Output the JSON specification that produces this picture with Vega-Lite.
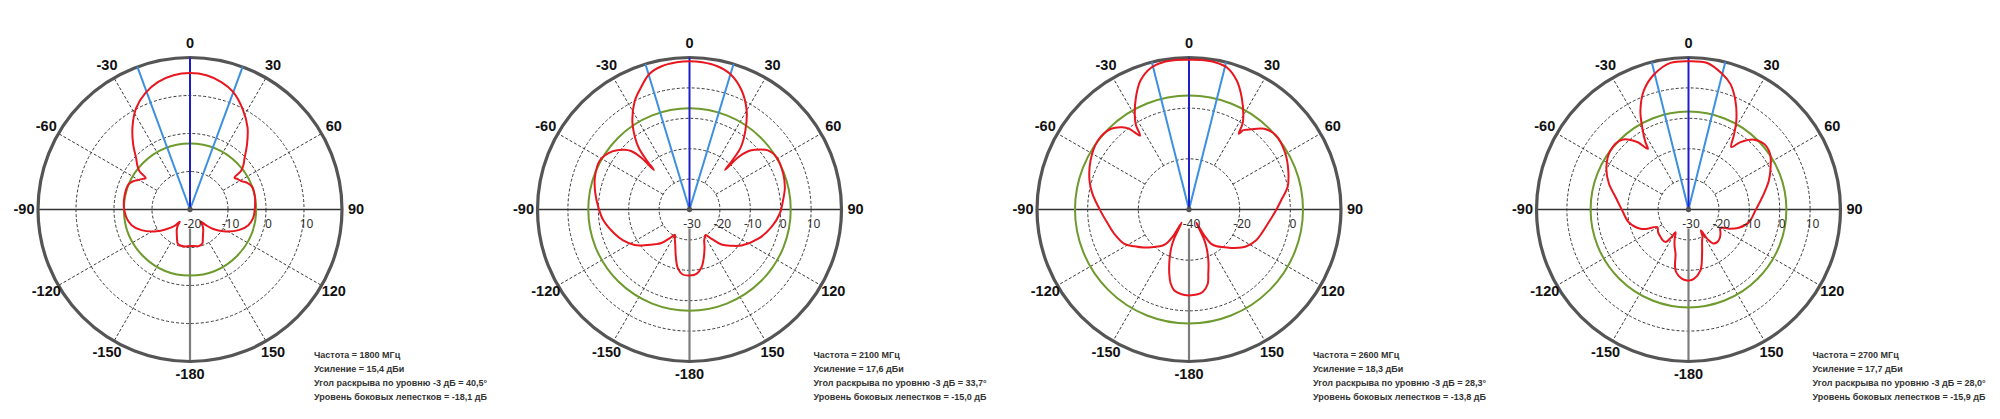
{
"$schema": "https://vega.github.io/schema/vega-lite/v6.json",
"background": "white",
"padding": 0,
"autosize": {"type": "pad"},
"config": {"view": {"stroke": null}},
"datasets": {"panels": [
 {"p":1,"lo":-20,"hi":20,"st":10},
 {"p":2,"lo":-30,"hi":20,"st":10},
 {"p":3,"lo":-40,"hi":20,"st":20},
 {"p":4,"lo":-30,"hi":20,"st":10}
]},
"data": {"values": [
{"k":"c","p":1,"a":-180,"v":-10.4},{"k":"c","p":1,"a":-172,"v":-10.2},{"k":"c","p":1,"a":-165,"v":-10.2},{"k":"c","p":1,"a":-160,"v":-10.5},{"k":"c","p":1,"a":-156,"v":-11.6},{"k":"c","p":1,"a":-152,"v":-12.6},{"k":"c","p":1,"a":-147,"v":-13.6},{"k":"c","p":1,"a":-143,"v":-14.6},{"k":"c","p":1,"a":-140,"v":-15.8},{"k":"c","p":1,"a":-136,"v":-13.8},{"k":"c","p":1,"a":-130,"v":-12.0},{"k":"c","p":1,"a":-123,"v":-9.5},{"k":"c","p":1,"a":-113,"v":-6.1},{"k":"c","p":1,"a":-105,"v":-4.1},{"k":"c","p":1,"a":-97,"v":-3.1},{"k":"c","p":1,"a":-88,"v":-2.6},{"k":"c","p":1,"a":-78,"v":-2.4},{"k":"c","p":1,"a":-68,"v":-2.5},{"k":"c","p":1,"a":-64,"v":-3.2},{"k":"c","p":1,"a":-60,"v":-4.4},{"k":"c","p":1,"a":-57,"v":-5.2},{"k":"c","p":1,"a":-54.5,"v":-5.7},{"k":"c","p":1,"a":-53,"v":-3.4},{"k":"c","p":1,"a":-50,"v":-1.9},{"k":"c","p":1,"a":-47,"v":-0.7},{"k":"c","p":1,"a":-41,"v":2.8},{"k":"c","p":1,"a":-35,"v":6.4},{"k":"c","p":1,"a":-28,"v":10.2},{"k":"c","p":1,"a":-21,"v":12.8},{"k":"c","p":1,"a":-14,"v":14.6},{"k":"c","p":1,"a":-7,"v":15.6},{"k":"c","p":1,"a":0,"v":15.9},{"k":"c","p":1,"a":7,"v":15.6},{"k":"c","p":1,"a":14,"v":14.5},{"k":"c","p":1,"a":20,"v":13.0},{"k":"c","p":1,"a":28,"v":9.7},{"k":"c","p":1,"a":35,"v":6.4},{"k":"c","p":1,"a":41,"v":2.9},{"k":"c","p":1,"a":47,"v":-0.4},{"k":"c","p":1,"a":50,"v":-1.6},{"k":"c","p":1,"a":53,"v":-3.2},{"k":"c","p":1,"a":54.5,"v":-5.6},{"k":"c","p":1,"a":57,"v":-5.2},{"k":"c","p":1,"a":61,"v":-4.6},{"k":"c","p":1,"a":65,"v":-3.4},{"k":"c","p":1,"a":70,"v":-2.6},{"k":"c","p":1,"a":79,"v":-2.6},{"k":"c","p":1,"a":88,"v":-2.9},{"k":"c","p":1,"a":97,"v":-3.2},{"k":"c","p":1,"a":105,"v":-4.1},{"k":"c","p":1,"a":113,"v":-6.1},{"k":"c","p":1,"a":123,"v":-9.5},{"k":"c","p":1,"a":130,"v":-12.0},{"k":"c","p":1,"a":134,"v":-13.9},{"k":"c","p":1,"a":138.5,"v":-15.8},{"k":"c","p":1,"a":142,"v":-14.6},{"k":"c","p":1,"a":147,"v":-13.6},{"k":"c","p":1,"a":152,"v":-12.7},{"k":"c","p":1,"a":156,"v":-11.7},{"k":"c","p":1,"a":160,"v":-10.5},{"k":"c","p":1,"a":167,"v":-10.1},{"k":"c","p":1,"a":173,"v":-10.3},{"k":"c","p":1,"a":180,"v":-10.4},

{"k":"c","p":2,"a":-180,"v":-8.3},{"k":"c","p":2,"a":-174,"v":-8.5},{"k":"c","p":2,"a":-169,"v":-10.2},{"k":"c","p":2,"a":-166,"v":-12.2},{"k":"c","p":2,"a":-162.5,"v":-14.8},{"k":"c","p":2,"a":-158,"v":-17.5},{"k":"c","p":2,"a":-154,"v":-19.0},{"k":"c","p":2,"a":-150,"v":-20.4},{"k":"c","p":2,"a":-145.5,"v":-18.6},{"k":"c","p":2,"a":-140,"v":-15.6},{"k":"c","p":2,"a":-135,"v":-13.8},{"k":"c","p":2,"a":-130,"v":-11.8},{"k":"c","p":2,"a":-123,"v":-8.5},{"k":"c","p":2,"a":-115,"v":-5.9},{"k":"c","p":2,"a":-108,"v":-4.1},{"k":"c","p":2,"a":-97,"v":-1.4},{"k":"c","p":2,"a":-88.5,"v":0.0},{"k":"c","p":2,"a":-80.5,"v":1.4},{"k":"c","p":2,"a":-71,"v":2.9},{"k":"c","p":2,"a":-61,"v":3.6},{"k":"c","p":2,"a":-53,"v":1.8},{"k":"c","p":2,"a":-47.5,"v":-0.9},{"k":"c","p":2,"a":-45,"v":-2.8},{"k":"c","p":2,"a":-43,"v":-6.5},{"k":"c","p":2,"a":-42,"v":-12.5},{"k":"c","p":2,"a":-41,"v":-8.3},{"k":"c","p":2,"a":-39.5,"v":-3.8},{"k":"c","p":2,"a":-37,"v":-0.2},{"k":"c","p":2,"a":-33,"v":4.5},{"k":"c","p":2,"a":-27,"v":9.8},{"k":"c","p":2,"a":-22,"v":13.0},{"k":"c","p":2,"a":-16.5,"v":16.5},{"k":"c","p":2,"a":-11,"v":18.0},{"k":"c","p":2,"a":-5,"v":18.6},{"k":"c","p":2,"a":0,"v":18.8},{"k":"c","p":2,"a":5,"v":18.6},{"k":"c","p":2,"a":11,"v":18.0},{"k":"c","p":2,"a":16.6,"v":16.6},{"k":"c","p":2,"a":23.6,"v":12.8},{"k":"c","p":2,"a":30,"v":7.6},{"k":"c","p":2,"a":35.3,"v":1.8},{"k":"c","p":2,"a":39.5,"v":-3.5},{"k":"c","p":2,"a":41,"v":-8.3},{"k":"c","p":2,"a":42,"v":-12.5},{"k":"c","p":2,"a":43,"v":-6.5},{"k":"c","p":2,"a":45.2,"v":-2.8},{"k":"c","p":2,"a":47.6,"v":-0.9},{"k":"c","p":2,"a":53,"v":2.3},{"k":"c","p":2,"a":59,"v":3.4},{"k":"c","p":2,"a":69,"v":3.0},{"k":"c","p":2,"a":77,"v":2.2},{"k":"c","p":2,"a":84.5,"v":0.9},{"k":"c","p":2,"a":92.7,"v":-0.3},{"k":"c","p":2,"a":102,"v":-2.4},{"k":"c","p":2,"a":113,"v":-5.4},{"k":"c","p":2,"a":124.7,"v":-9.2},{"k":"c","p":2,"a":131,"v":-11.8},{"k":"c","p":2,"a":137.6,"v":-14.4},{"k":"c","p":2,"a":143,"v":-17.9},{"k":"c","p":2,"a":147.7,"v":-20.1},{"k":"c","p":2,"a":151,"v":-19.6},{"k":"c","p":2,"a":154.7,"v":-18.7},{"k":"c","p":2,"a":158,"v":-16.8},{"k":"c","p":2,"a":161.7,"v":-14.6},{"k":"c","p":2,"a":165,"v":-12.5},{"k":"c","p":2,"a":168.2,"v":-10.6},{"k":"c","p":2,"a":173.8,"v":-8.7},{"k":"c","p":2,"a":180,"v":-8.3},

{"k":"c","p":3,"a":-180,"v":-6.1},{"k":"c","p":3,"a":-175,"v":-6.4},{"k":"c","p":3,"a":-169.7,"v":-7.5},{"k":"c","p":3,"a":-166,"v":-10.0},{"k":"c","p":3,"a":-163,"v":-13.4},{"k":"c","p":3,"a":-160,"v":-17.2},{"k":"c","p":3,"a":-157,"v":-21.0},{"k":"c","p":3,"a":-155,"v":-23.5},{"k":"c","p":3,"a":-153,"v":-27.0},{"k":"c","p":3,"a":-151,"v":-34.0},{"k":"c","p":3,"a":-149,"v":-27.5},{"k":"c","p":3,"a":-147,"v":-24.5},{"k":"c","p":3,"a":-143.8,"v":-22.4},{"k":"c","p":3,"a":-137,"v":-19.8},{"k":"c","p":3,"a":-130,"v":-16.6},{"k":"c","p":3,"a":-124,"v":-14.0},{"k":"c","p":3,"a":-118,"v":-11.1},{"k":"c","p":3,"a":-108,"v":-9.0},{"k":"c","p":3,"a":-100,"v":-7.5},{"k":"c","p":3,"a":-91.7,"v":-5.3},{"k":"c","p":3,"a":-80.8,"v":-1.4},{"k":"c","p":3,"a":-73.8,"v":0.9},{"k":"c","p":3,"a":-63.6,"v":3.4},{"k":"c","p":3,"a":-53,"v":5.1},{"k":"c","p":3,"a":-44,"v":4.3},{"k":"c","p":3,"a":-39,"v":1.8},{"k":"c","p":3,"a":-36.5,"v":-0.4},{"k":"c","p":3,"a":-33.5,"v":-5.0},{"k":"c","p":3,"a":-32.2,"v":-0.7},{"k":"c","p":3,"a":-30,"v":2.8},{"k":"c","p":3,"a":-25.3,"v":9.0},{"k":"c","p":3,"a":-20.7,"v":14.3},{"k":"c","p":3,"a":-15,"v":17.9},{"k":"c","p":3,"a":-10,"v":19.0},{"k":"c","p":3,"a":-5,"v":19.2},{"k":"c","p":3,"a":0,"v":19.1},{"k":"c","p":3,"a":5,"v":19.2},{"k":"c","p":3,"a":10,"v":19.0},{"k":"c","p":3,"a":15.2,"v":17.9},{"k":"c","p":3,"a":20.4,"v":14.2},{"k":"c","p":3,"a":25.1,"v":9.0},{"k":"c","p":3,"a":30,"v":2.9},{"k":"c","p":3,"a":32,"v":-0.1},{"k":"c","p":3,"a":33.3,"v":-4.2},{"k":"c","p":3,"a":34.5,"v":-2.0},{"k":"c","p":3,"a":36.4,"v":-0.9},{"k":"c","p":3,"a":43,"v":3.6},{"k":"c","p":3,"a":49.6,"v":5.1},{"k":"c","p":3,"a":59.2,"v":4.1},{"k":"c","p":3,"a":68.6,"v":2.1},{"k":"c","p":3,"a":77.2,"v":-0.1},{"k":"c","p":3,"a":84.4,"v":-3.5},{"k":"c","p":3,"a":90.7,"v":-5.7},{"k":"c","p":3,"a":100.3,"v":-8.4},{"k":"c","p":3,"a":108,"v":-9.8},{"k":"c","p":3,"a":114.8,"v":-10.9},{"k":"c","p":3,"a":123,"v":-13.2},{"k":"c","p":3,"a":130,"v":-16.4},{"k":"c","p":3,"a":136.8,"v":-19.6},{"k":"c","p":3,"a":143,"v":-21.8},{"k":"c","p":3,"a":147,"v":-23.8},{"k":"c","p":3,"a":149.5,"v":-28.0},{"k":"c","p":3,"a":151,"v":-34.0},{"k":"c","p":3,"a":153,"v":-27.5},{"k":"c","p":3,"a":155,"v":-23.8},{"k":"c","p":3,"a":157.2,"v":-21.0},{"k":"c","p":3,"a":160,"v":-17.5},{"k":"c","p":3,"a":163.3,"v":-13.5},{"k":"c","p":3,"a":165.9,"v":-9.7},{"k":"c","p":3,"a":170.6,"v":-7.0},{"k":"c","p":3,"a":175,"v":-6.3},{"k":"c","p":3,"a":180,"v":-6.1},

{"k":"c","p":4,"a":-180,"v":-6.6},{"k":"c","p":4,"a":-174.8,"v":-7.1},{"k":"c","p":4,"a":-168,"v":-9.5},{"k":"c","p":4,"a":-163.7,"v":-14.8},{"k":"c","p":4,"a":-159,"v":-17.2},{"k":"c","p":4,"a":-155,"v":-19.2},{"k":"c","p":4,"a":-150.2,"v":-21.4},{"k":"c","p":4,"a":-148,"v":-19.0},{"k":"c","p":4,"a":-145,"v":-17.0},{"k":"c","p":4,"a":-141,"v":-16.8},{"k":"c","p":4,"a":-134.7,"v":-17.1},{"k":"c","p":4,"a":-127,"v":-17.5},{"k":"c","p":4,"a":-119.4,"v":-18.2},{"k":"c","p":4,"a":-115,"v":-15.0},{"k":"c","p":4,"a":-111.9,"v":-13.0},{"k":"c","p":4,"a":-102,"v":-9.9},{"k":"c","p":4,"a":-90.9,"v":-8.2},{"k":"c","p":4,"a":-80.4,"v":-5.7},{"k":"c","p":4,"a":-72.1,"v":-2.5},{"k":"c","p":4,"a":-62.7,"v":0.4},{"k":"c","p":4,"a":-52.9,"v":2.2},{"k":"c","p":4,"a":-43.6,"v":1.7},{"k":"c","p":4,"a":-37.3,"v":-2.1},{"k":"c","p":4,"a":-33.8,"v":-6.0},{"k":"c","p":4,"a":-32.6,"v":-3.7},{"k":"c","p":4,"a":-29.4,"v":1.0},{"k":"c","p":4,"a":-25.9,"v":6.2},{"k":"c","p":4,"a":-20.6,"v":11.8},{"k":"c","p":4,"a":-14,"v":16.0},{"k":"c","p":4,"a":-7,"v":18.6},{"k":"c","p":4,"a":0,"v":18.8},{"k":"c","p":4,"a":7.3,"v":18.6},{"k":"c","p":4,"a":13.9,"v":16.0},{"k":"c","p":4,"a":18.5,"v":13.5},{"k":"c","p":4,"a":23.3,"v":9.0},{"k":"c","p":4,"a":28.3,"v":3.2},{"k":"c","p":4,"a":31.5,"v":-1.5},{"k":"c","p":4,"a":34.4,"v":-5.1},{"k":"c","p":4,"a":37.7,"v":-2.0},{"k":"c","p":4,"a":43.2,"v":1.5},{"k":"c","p":4,"a":48.9,"v":2.9},{"k":"c","p":4,"a":55.6,"v":2.5},{"k":"c","p":4,"a":62.7,"v":0.4},{"k":"c","p":4,"a":70.2,"v":-1.9},{"k":"c","p":4,"a":78.3,"v":-4.7},{"k":"c","p":4,"a":90.9,"v":-8.0},{"k":"c","p":4,"a":101.9,"v":-9.7},{"k":"c","p":4,"a":110,"v":-12.4},{"k":"c","p":4,"a":115,"v":-15.0},{"k":"c","p":4,"a":119.8,"v":-17.9},{"k":"c","p":4,"a":126,"v":-17.0},{"k":"c","p":4,"a":132,"v":-16.1},{"k":"c","p":4,"a":138.7,"v":-15.7},{"k":"c","p":4,"a":144,"v":-16.2},{"k":"c","p":4,"a":147,"v":-18.0},{"k":"c","p":4,"a":149.5,"v":-22.0},{"k":"c","p":4,"a":152.5,"v":-20.0},{"k":"c","p":4,"a":156.2,"v":-18.9},{"k":"c","p":4,"a":162.9,"v":-14.8},{"k":"c","p":4,"a":168.9,"v":-9.6},{"k":"c","p":4,"a":175.6,"v":-7.1},{"k":"c","p":4,"a":180,"v":-6.6},

{"k":"r","p":1,"v":-20},{"k":"r","p":1,"v":-10},{"k":"r","p":1,"v":0},{"k":"r","p":1,"v":10},{"k":"r","p":1,"v":20},
{"k":"r","p":2,"v":-30},{"k":"r","p":2,"v":-20},{"k":"r","p":2,"v":-10},{"k":"r","p":2,"v":0},{"k":"r","p":2,"v":10},{"k":"r","p":2,"v":20},
{"k":"r","p":3,"v":-40},{"k":"r","p":3,"v":-20},{"k":"r","p":3,"v":0},{"k":"r","p":3,"v":20},
{"k":"r","p":4,"v":-30},{"k":"r","p":4,"v":-20},{"k":"r","p":4,"v":-10},{"k":"r","p":4,"v":0},{"k":"r","p":4,"v":10},{"k":"r","p":4,"v":20},

{"k":"g","p":1,"v":-2.6},{"k":"g","p":2,"v":3.3},{"k":"g","p":3,"v":5.0},{"k":"g","p":4,"v":2.2},

{"k":"b","p":1,"a":-20.25},{"k":"b","p":1,"a":20.25},
{"k":"b","p":2,"a":-16.85},{"k":"b","p":2,"a":16.85},
{"k":"b","p":3,"a":-14.15},{"k":"b","p":3,"a":14.15},
{"k":"b","p":4,"a":-14.0},{"k":"b","p":4,"a":14.0},

{"k":"t","p":1,"a":0},{"k":"t","p":1,"a":30},{"k":"t","p":1,"a":60},{"k":"t","p":1,"a":90},{"k":"t","p":1,"a":120},{"k":"t","p":1,"a":150},{"k":"t","p":1,"a":-180},{"k":"t","p":1,"a":-150},{"k":"t","p":1,"a":-120},{"k":"t","p":1,"a":-90},{"k":"t","p":1,"a":-60},{"k":"t","p":1,"a":-30},
{"k":"t","p":2,"a":0},{"k":"t","p":2,"a":30},{"k":"t","p":2,"a":60},{"k":"t","p":2,"a":90},{"k":"t","p":2,"a":120},{"k":"t","p":2,"a":150},{"k":"t","p":2,"a":-180},{"k":"t","p":2,"a":-150},{"k":"t","p":2,"a":-120},{"k":"t","p":2,"a":-90},{"k":"t","p":2,"a":-60},{"k":"t","p":2,"a":-30},
{"k":"t","p":3,"a":0},{"k":"t","p":3,"a":30},{"k":"t","p":3,"a":60},{"k":"t","p":3,"a":90},{"k":"t","p":3,"a":120},{"k":"t","p":3,"a":150},{"k":"t","p":3,"a":-180},{"k":"t","p":3,"a":-150},{"k":"t","p":3,"a":-120},{"k":"t","p":3,"a":-90},{"k":"t","p":3,"a":-60},{"k":"t","p":3,"a":-30},
{"k":"t","p":4,"a":0},{"k":"t","p":4,"a":30},{"k":"t","p":4,"a":60},{"k":"t","p":4,"a":90},{"k":"t","p":4,"a":120},{"k":"t","p":4,"a":150},{"k":"t","p":4,"a":-180},{"k":"t","p":4,"a":-150},{"k":"t","p":4,"a":-120},{"k":"t","p":4,"a":-90},{"k":"t","p":4,"a":-60},{"k":"t","p":4,"a":-30},

{"k":"i","p":1,"txt":"Частота = 1800 МГц\nУсиление = 15,4 дБи\nУгол раскрыва по уровню -3 дБ = 40,5°\nУровень боковых лепестков = -18,1 дБ"},
{"k":"i","p":2,"txt":"Частота = 2100 МГц\nУсиление = 17,6 дБи\nУгол раскрыва по уровню -3 дБ = 33,7°\nУровень боковых лепестков = -15,0 дБ"},
{"k":"i","p":3,"txt":"Частота = 2600 МГц\nУсиление = 18,3 дБи\nУгол раскрыва по уровню -3 дБ = 28,3°\nУровень боковых лепестков = -13,8 дБ"},
{"k":"i","p":4,"txt":"Частота = 2700 МГц\nУсиление = 17,7 дБи\nУгол раскрыва по уровню -3 дБ = 28,0°\nУровень боковых лепестков = -15,9 дБ"}
]},
"transform": [
 {"lookup": "p", "from": {"data": {"name": "panels"}, "key": "p", "fields": ["lo", "hi", "st"]}},
 {"calculate": "(datum.v - datum.lo) / (datum.hi - datum.lo)", "as": "rn"},
 {"calculate": "datum.a * PI / 180", "as": "t"},
 {"calculate": "0", "as": "z"}
],
"facet": {"column": {"field": "p", "type": "ordinal", "header": {"title": null, "labels": false}}},
"spacing": 119.5,
"bounds": "flush",
"spec": {
 "width": 380,
 "height": 419,
 "layer": [
  {"transform": [{"filter": "datum.k == 'r' && datum.v > datum.lo && datum.v < datum.hi"}],
   "mark": {"type": "point", "shape": "circle", "filled": false, "color": "#3a3a3a", "strokeWidth": 1, "strokeDash": [3, 2], "opacity": 1},
   "encoding": {
     "x": {"field": "z", "type": "quantitative", "scale": {"domain": [-1.25, 1.25], "nice": false, "zero": false}, "axis": null},
     "y": {"field": "z", "type": "quantitative", "scale": {"domain": [-1.3783, 1.3783], "nice": false, "zero": false}, "axis": null},
     "size": {"field": "rn", "type": "quantitative", "scale": {"type": "pow", "exponent": 2, "domain": [0, 1], "range": [0, 92416]}, "legend": null}}},
  {"transform": [{"filter": "datum.k == 't' && datum.a % 90 != 0"},
     {"calculate": "datum.st / (datum.hi - datum.lo)", "as": "r0"},
     {"calculate": "datum.r0 * sin(datum.t)", "as": "x"}, {"calculate": "datum.r0 * cos(datum.t)", "as": "y"},
     {"calculate": "sin(datum.t)", "as": "x2"}, {"calculate": "cos(datum.t)", "as": "y2"}],
   "mark": {"type": "rule", "color": "#3a3a3a", "strokeWidth": 1, "strokeDash": [3, 2]},
   "encoding": {
     "x": {"field": "x", "type": "quantitative", "scale": {"domain": [-1.25, 1.25], "nice": false, "zero": false}, "axis": null},
     "y": {"field": "y", "type": "quantitative", "scale": {"domain": [-1.3783, 1.3783], "nice": false, "zero": false}, "axis": null},
     "x2": {"field": "x2"}, "y2": {"field": "y2"}}},
  {"transform": [{"filter": "datum.k == 't' && abs(datum.a) == 90"},
     {"calculate": "sin(datum.t)", "as": "x2"}, {"calculate": "cos(datum.t)", "as": "y2"}],
   "mark": {"type": "rule", "color": "#333333", "strokeWidth": 1.5},
   "encoding": {
     "x": {"field": "z", "type": "quantitative", "scale": {"domain": [-1.25, 1.25], "nice": false, "zero": false}, "axis": null},
     "y": {"field": "z", "type": "quantitative", "scale": {"domain": [-1.3783, 1.3783], "nice": false, "zero": false}, "axis": null},
     "x2": {"field": "x2"}, "y2": {"field": "y2"}}},
  {"transform": [{"filter": "datum.k == 't' && datum.a == -180"},
     {"calculate": "0.125 * cos(datum.t)", "as": "y"},
     {"calculate": "cos(datum.t)", "as": "y2"}],
   "mark": {"type": "rule", "color": "#7d7d7d", "strokeWidth": 2.2},
   "encoding": {
     "x": {"field": "z", "type": "quantitative", "scale": {"domain": [-1.25, 1.25], "nice": false, "zero": false}, "axis": null},
     "y": {"field": "y", "type": "quantitative", "scale": {"domain": [-1.3783, 1.3783], "nice": false, "zero": false}, "axis": null},
     "y2": {"field": "y2"}}},
  {"transform": [{"filter": "datum.k == 'g'"}],
   "mark": {"type": "point", "shape": "circle", "filled": false, "color": "#6f9a2e", "strokeWidth": 2, "opacity": 1},
   "encoding": {
     "x": {"field": "z", "type": "quantitative", "scale": {"domain": [-1.25, 1.25], "nice": false, "zero": false}, "axis": null},
     "y": {"field": "z", "type": "quantitative", "scale": {"domain": [-1.3783, 1.3783], "nice": false, "zero": false}, "axis": null},
     "size": {"field": "rn", "type": "quantitative", "scale": {"type": "pow", "exponent": 2, "domain": [0, 1], "range": [0, 92416]}, "legend": null}}},
  {"transform": [{"filter": "datum.k == 'r' && datum.v == datum.hi"}],
   "mark": {"type": "point", "shape": "circle", "filled": false, "color": "#555555", "strokeWidth": 3.2, "opacity": 1},
   "encoding": {
     "x": {"field": "z", "type": "quantitative", "scale": {"domain": [-1.25, 1.25], "nice": false, "zero": false}, "axis": null},
     "y": {"field": "z", "type": "quantitative", "scale": {"domain": [-1.3783, 1.3783], "nice": false, "zero": false}, "axis": null},
     "size": {"field": "rn", "type": "quantitative", "scale": {"type": "pow", "exponent": 2, "domain": [0, 1], "range": [0, 92416]}, "legend": null}}},
  {"transform": [{"filter": "datum.k == 'b' || (datum.k == 't' && datum.a == 0)"},
     {"calculate": "sin(datum.t)", "as": "x2"}, {"calculate": "cos(datum.t)", "as": "y2"},
     {"calculate": "datum.k == 'b' ? 'side' : 'main'", "as": "line"}],
   "mark": {"type": "rule", "strokeWidth": 2},
   "encoding": {
     "x": {"field": "z", "type": "quantitative", "scale": {"domain": [-1.25, 1.25], "nice": false, "zero": false}, "axis": null},
     "y": {"field": "z", "type": "quantitative", "scale": {"domain": [-1.3783, 1.3783], "nice": false, "zero": false}, "axis": null},
     "x2": {"field": "x2"}, "y2": {"field": "y2"},
     "color": {"field": "line", "type": "nominal", "scale": {"domain": ["main", "side"], "range": ["#1f1fc8", "#3d8fe0"]}, "legend": null}}},
  {"transform": [{"filter": "datum.k == 'c'"},
     {"calculate": "datum.rn * sin(datum.t)", "as": "x"}, {"calculate": "datum.rn * cos(datum.t)", "as": "y"}],
   "mark": {"type": "line", "color": "#e8161e", "strokeWidth": 2, "interpolate": "catmull-rom"},
   "encoding": {
     "x": {"field": "x", "type": "quantitative", "scale": {"domain": [-1.25, 1.25], "nice": false, "zero": false}, "axis": null},
     "y": {"field": "y", "type": "quantitative", "scale": {"domain": [-1.3783, 1.3783], "nice": false, "zero": false}, "axis": null},
     "order": {"field": "a", "type": "quantitative"}}},
  {"transform": [{"filter": "datum.k == 't' && datum.a == 0"}],
   "mark": {"type": "point", "shape": "circle", "filled": true, "color": "#555555", "size": 28, "opacity": 1},
   "encoding": {
     "x": {"field": "z", "type": "quantitative", "scale": {"domain": [-1.25, 1.25], "nice": false, "zero": false}, "axis": null},
     "y": {"field": "z", "type": "quantitative", "scale": {"domain": [-1.3783, 1.3783], "nice": false, "zero": false}, "axis": null}}},
  {"transform": [{"filter": "datum.k == 't'"},
     {"calculate": "1.092 * sin(datum.t)", "as": "x"}, {"calculate": "1.092 * cos(datum.t)", "as": "y"},
     {"calculate": "'' + datum.a", "as": "lab"}],
   "mark": {"type": "text", "font": "Liberation Sans, Arial, sans-serif", "fontWeight": "bold", "fontSize": 14.5, "color": "#111111", "align": "center", "baseline": "middle"},
   "encoding": {
     "x": {"field": "x", "type": "quantitative", "scale": {"domain": [-1.25, 1.25], "nice": false, "zero": false}, "axis": null},
     "y": {"field": "y", "type": "quantitative", "scale": {"domain": [-1.3783, 1.3783], "nice": false, "zero": false}, "axis": null},
     "text": {"field": "lab", "type": "nominal"}}},
  {"transform": [{"filter": "datum.k == 'r' && datum.v < datum.hi"},
     {"calculate": "'' + datum.v", "as": "lab"}],
   "mark": {"type": "text", "font": "Noto Sans, DejaVu Sans, sans-serif", "fontSize": 12, "color": "#333333", "align": "center", "baseline": "middle", "dx": 2.5, "dy": 14},
   "encoding": {
     "x": {"field": "rn", "type": "quantitative", "scale": {"domain": [-1.25, 1.25], "nice": false, "zero": false}, "axis": null},
     "y": {"field": "z", "type": "quantitative", "scale": {"domain": [-1.3783, 1.3783], "nice": false, "zero": false}, "axis": null},
     "text": {"field": "lab", "type": "nominal"}}},
  {"transform": [{"filter": "datum.k == 'i'"},
     {"calculate": "0.816", "as": "tx"}, {"calculate": "-0.93", "as": "ty"}],
   "mark": {"type": "text", "font": "Liberation Sans, Arial, sans-serif", "fontWeight": "bold", "fontSize": 9, "color": "#333333", "align": "left", "baseline": "top", "lineBreak": "\n", "lineHeight": 14.2},
   "encoding": {
     "x": {"field": "tx", "type": "quantitative", "scale": {"domain": [-1.25, 1.25], "nice": false, "zero": false}, "axis": null},
     "y": {"field": "ty", "type": "quantitative", "scale": {"domain": [-1.3783, 1.3783], "nice": false, "zero": false}, "axis": null},
     "text": {"field": "txt", "type": "nominal"}}}
 ]
}
}
